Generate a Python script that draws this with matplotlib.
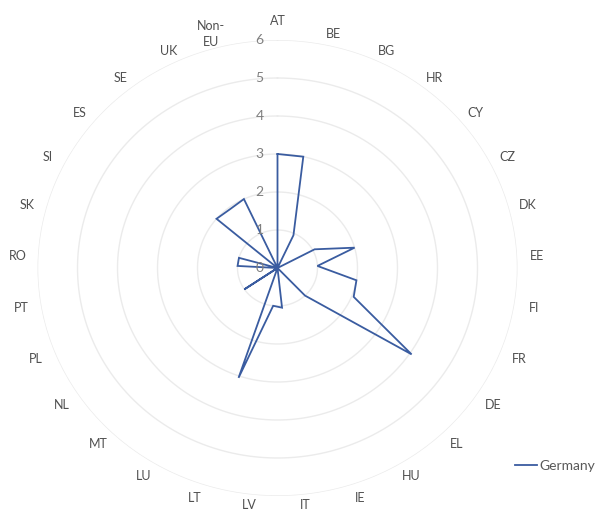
import numpy as np
import matplotlib
matplotlib.use("Agg")
import matplotlib.pyplot as plt
import matplotlib.transforms as mtransforms

plt.rcParams["font.family"] = ["Lato", "DejaVu Sans"]

# ---- data ----
categories = ["AT", "BE", "BG", "HR", "CY", "CZ", "DK", "EE", "FI", "FR",
              "DE", "EL", "HU", "IE", "IT", "LV", "LT", "LU", "MT", "NL",
              "PL", "PT", "RO", "SK", "SI", "ES", "SE", "UK", "Non-\nEU"]
germany = [3.0, 3.0, 0.95, 0.0, 0.0, 1.05, 2.0, 1.0, 2.0, 2.05,
           4.05, 1.0, 0.0, 0.0, 1.05, 1.0, 3.05, 0.0, 0.0, 1.0,
           0.0, 0.0, 1.0, 1.0, 0.0, 2.0, 1.95, 2.0, 0.0]
r_ticks = [0, 1, 2, 3, 4, 5, 6]
r_tick_labels = ["0", "1", "2", "3", "4", "5", "6"]
series_name = "Germany"

# ---- figure ----
W, H = 600, 513
fig = plt.figure(figsize=(W / 100, H / 100), dpi=100)
cx, cy = 277.5, 268.0
rx, ry = 240.0, 228.0
ax = fig.add_axes([(cx - rx) / W, (H - cy - ry) / H, 2 * rx / W, 2 * ry / H],
                  projection="polar")
ax.set_aspect("auto")
ax.set_theta_zero_location("N")
ax.set_theta_direction(-1)

n = len(categories)
angles = np.arange(n) * 2 * np.pi / n
vals = np.array(germany)
ax.plot(np.append(angles, angles[0]), np.append(vals, vals[0]),
        color="#3a5ca0", lw=1.3, label=series_name, solid_joinstyle="miter")

ax.set_ylim(0, 6)
ax.set_yticks(r_ticks)
ax.set_yticklabels([])
ax.set_xticks([])
ax.grid(False)
ax.spines["polar"].set_visible(False)
ax.patch.set_visible(False)

# rings
th = np.linspace(0, 2 * np.pi, 400)
for r in r_ticks[1:]:
    ax.plot(th, np.full_like(th, r), color="#ebebeb", lw=1.0, zorder=0)

# radial value labels
off = mtransforms.ScaledTranslation(-18 / 100, 0, fig.dpi_scale_trans)
for r, lab in zip(r_ticks, r_tick_labels):
    ax.text(0, r, lab, transform=ax.transData + off, ha="center", va="center",
            fontsize=10, color="#7f7f7f")

# category labels (slightly flattened placement, like the original layout)
for i, (a, lab) in enumerate(zip(angles, categories)):
    c = np.cos(a)
    dy_px = -6.0 * c - 1.5
    dx_px = 0.0
    if i == 0:
        dy_px = 0.0
    if c < -0.95:
        dy_px += 4.0
    if "\n" in lab:
        dx_px = -11.0
        dy_px = -7.0
    o = mtransforms.ScaledTranslation(dx_px / 100, dy_px / 100, fig.dpi_scale_trans)
    ax.text(a, 6.5, lab, transform=ax.transData + o, ha="center", va="center",
            fontsize=9, color="#505050", clip_on=False, linespacing=1.45)

fig.legend(loc="center left", bbox_to_anchor=(515 / W, 1 - 465.7 / H),
           frameon=False, fontsize=10, handlelength=1.6, handletextpad=0.12,
           borderpad=0, borderaxespad=0, labelcolor="#595959")

fig.savefig("out.png", dpi=100)
